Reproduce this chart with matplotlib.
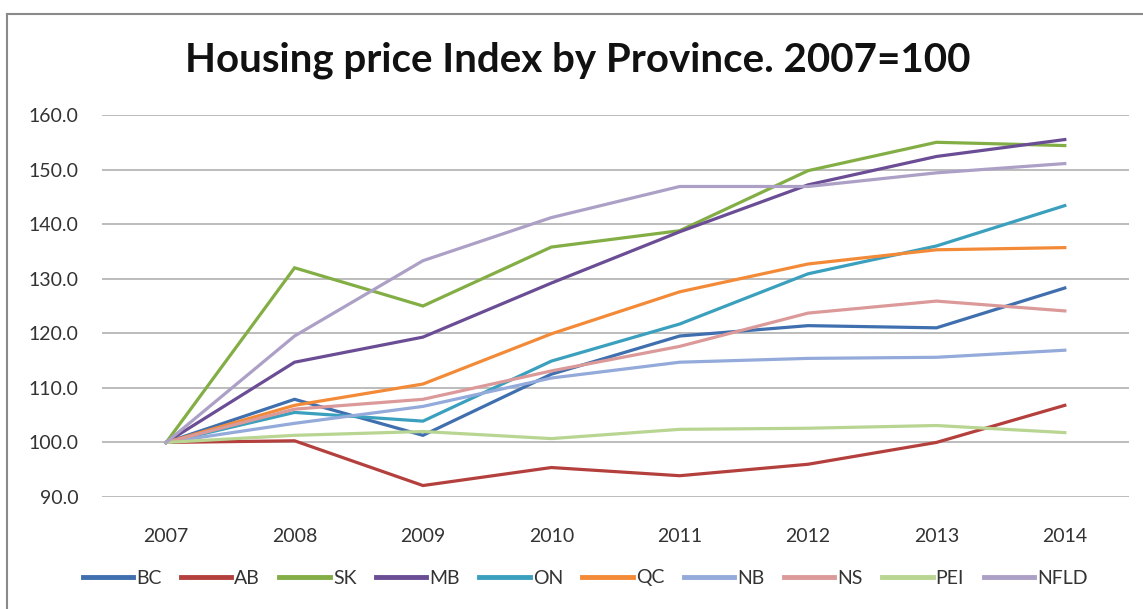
import matplotlib
matplotlib.use('Agg')
import matplotlib.pyplot as plt
from matplotlib.lines import Line2D

plt.rcParams['font.family'] = ['Lato', 'DejaVu Sans']

# Data
years = ['2007', '2008', '2009', '2010', '2011', '2012', '2013', '2014']
provinces = ['BC', 'AB', 'SK', 'MB', 'ON', 'QC', 'NB', 'NS', 'PEI', 'NFLD']
bc = [100, 107.9, 101.3, 112.5, 119.5, 121.4, 121.0, 128.3]
ab = [100, 100.3, 92.1, 95.4, 93.9, 96.0, 100.0, 106.8]
sk = [100, 132.0, 125.0, 135.8, 138.8, 149.8, 155.0, 154.4]
mb = [100, 114.7, 119.3, 129.2, 138.6, 147.2, 152.4, 155.5]
on = [100, 105.5, 103.9, 114.9, 121.7, 130.9, 136.0, 143.4]
qc = [100, 106.8, 110.7, 119.9, 127.6, 132.7, 135.3, 135.7]
nb = [100, 103.5, 106.6, 111.8, 114.7, 115.4, 115.6, 116.9]
ns = [100, 106.1, 107.9, 113.1, 117.6, 123.7, 125.9, 124.1]
pei = [100, 101.3, 102.0, 100.7, 102.4, 102.6, 103.1, 101.8]
nfld = [100, 119.5, 133.3, 141.2, 146.9, 146.9, 149.4, 151.1]

series = [bc, ab, sk, mb, on, qc, nb, ns, pei, nfld]
colors = ['#3F6FAE', '#B4403D', '#83AE45', '#6A4D94', '#3AA0BE',
          '#F38A37', '#93AADA', '#DB9A99', '#B9D592', '#ACA0C6']

fig = plt.figure(figsize=(11.43, 6.09), dpi=100)
ax = fig.add_axes([102 / 1143, 1 - 497 / 609, 1027 / 1143, (497 - 115) / 609])

x = list(range(len(years)))
for vals, name, col in zip(series, provinces, colors):
    ax.plot(x, vals, color=col, lw=2.3, label=name, solid_joinstyle='miter')

ax.set_xlim(-0.5, len(years) - 0.5)
ax.set_ylim(90, 160)
ax.set_yticks(range(90, 161, 10))
ax.set_yticklabels([f'{v:.1f}' for v in range(90, 161, 10)])
ax.set_xticks(x)
ax.set_xticklabels(years)
ax.grid(axis='y', color='#B0B0B0', lw=1.2)
ax.set_axisbelow(True)
for s in ax.spines.values():
    s.set_visible(False)
ax.tick_params(axis='both', length=0, labelsize=14, colors='#333333')
ax.tick_params(axis='x', pad=22)
ax.tick_params(axis='y', pad=17)

fig.text(578 / 1143, 1 - 60 / 609, 'Housing price Index by Province. 2007=100',
         ha='center', va='center', fontsize=29, fontweight='bold', color='#111111')

# outer chart frame (left and top edges visible)
fig.add_artist(Line2D([7 / 1143, 7 / 1143], [0, 1 - 14 / 609], color='#8A8A8A', lw=1.5,
                      transform=fig.transFigure))
fig.add_artist(Line2D([7 / 1143, 1], [1 - 14 / 609, 1 - 14 / 609], color='#8A8A8A', lw=1.5,
                      transform=fig.transFigure))

fig.legend(loc='center', bbox_to_anchor=(585 / 1143, 1 - 578 / 609), ncol=10,
           frameon=False, fontsize=14, handlelength=2.6, handletextpad=0.15,
           columnspacing=1.0, labelcolor='#333333')
for line in fig.legends[0].get_lines():
    line.set_linewidth(3.5)

fig.savefig('out.png', dpi=100)
